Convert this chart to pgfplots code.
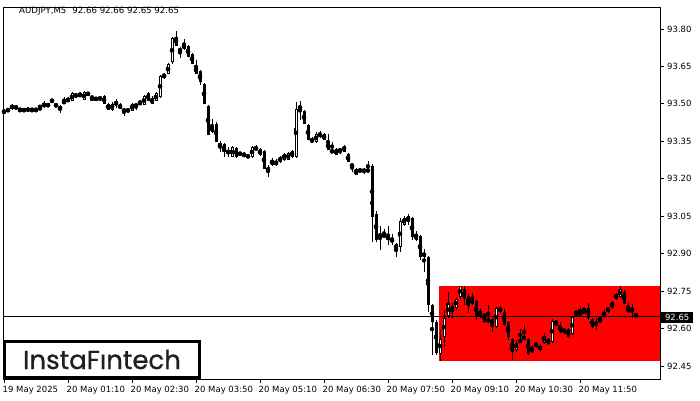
\documentclass[border=0pt]{standalone}
\usepackage{pgfplots}
\pgfplotsset{compat=1.18}
\usepackage{pgfplotstable}
\usepackage{fontspec}
\setmainfont{DejaVu Sans}
\newfontfamily\logofont[FakeBold=0.8]{Poppins}

% AUDJPY M5 bars: index, open, high, low, close
\pgfplotstableread{
i O H L C
0 93.468 93.476 93.464 93.468
1 93.476 93.476 93.476 93.476
2 93.480 93.500 93.476 93.496
3 93.492 93.496 93.476 93.480
4 93.476 93.480 93.476 93.476
5 93.480 93.484 93.468 93.472
6 93.480 93.484 93.472 93.476
7 93.476 93.480 93.476 93.476
8 93.476 93.480 93.476 93.476
9 93.488 93.488 93.476 93.488
10 93.488 93.512 93.484 93.504
11 93.488 93.504 93.488 93.504
12 93.512 93.516 93.512 93.512
13 93.500 93.504 93.488 93.488
14 93.476 93.496 93.464 93.492
15 93.500 93.528 93.500 93.516
16 93.524 93.528 93.508 93.508
17 93.512 93.548 93.512 93.544
18 93.528 93.544 93.528 93.540
19 93.536 93.540 93.536 93.536
20 93.516 93.552 93.516 93.548
21 93.540 93.544 93.536 93.540
22 93.520 93.532 93.520 93.520
23 93.520 93.528 93.512 93.520
24 93.528 93.532 93.516 93.516
25 93.532 93.536 93.500 93.500
26 93.500 93.504 93.476 93.476
27 93.476 93.508 93.472 93.500
28 93.496 93.520 93.484 93.512
29 93.500 93.504 93.480 93.480
30 93.468 93.484 93.452 93.480
31 93.468 93.484 93.464 93.480
32 93.472 93.504 93.472 93.500
33 93.488 93.504 93.476 93.500
34 93.512 93.516 93.496 93.496
35 93.496 93.536 93.496 93.532
36 93.544 93.548 93.512 93.512
37 93.500 93.532 93.500 93.524
38 93.512 93.548 93.512 93.544
39 93.528 93.616 93.524 93.612
40 93.620 93.624 93.600 93.608
41 93.620 93.664 93.620 93.660
42 93.668 93.768 93.660 93.764
43 93.768 93.792 93.732 93.732
44 93.720 93.728 93.684 93.712
45 93.720 93.760 93.716 93.740
46 93.732 93.736 93.688 93.688
47 93.700 93.704 93.660 93.660
48 93.652 93.676 93.620 93.620
49 93.632 93.636 93.576 93.588
50 93.580 93.584 93.500 93.500
51 93.492 93.496 93.376 93.376
52 93.388 93.440 93.384 93.412
53 93.420 93.428 93.348 93.348
54 93.344 93.352 93.308 93.328
55 93.340 93.344 93.288 93.308
56 93.308 93.328 93.288 93.308
57 93.288 93.332 93.288 93.328
58 93.324 93.328 93.284 93.288
59 93.304 93.308 93.296 93.296
60 93.296 93.308 93.288 93.296
61 93.292 93.300 93.284 93.292
62 93.288 93.332 93.284 93.328
63 93.328 93.336 93.312 93.316
64 93.320 93.324 93.292 93.296
65 93.312 93.316 93.240 93.240
66 93.228 93.256 93.208 93.248
67 93.256 93.284 93.252 93.276
68 93.272 93.280 93.252 93.256
69 93.268 93.292 93.264 93.288
70 93.276 93.304 93.272 93.300
71 93.276 93.308 93.276 93.304
72 93.312 93.316 93.284 93.288
73 93.288 93.508 93.284 93.480
74 93.492 93.512 93.436 93.480
75 93.472 93.476 93.420 93.420
76 93.416 93.420 93.356 93.356
77 93.348 93.368 93.344 93.360
78 93.348 93.388 93.344 93.380
79 93.376 93.392 93.364 93.376
80 93.380 93.384 93.356 93.356
81 93.348 93.380 93.316 93.316
82 93.312 93.348 93.312 93.312
83 93.320 93.324 93.296 93.296
84 93.308 93.324 93.300 93.320
85 93.332 93.336 93.308 93.308
86 93.300 93.304 93.268 93.268
87 93.260 93.264 93.228 93.248
88 93.240 93.244 93.216 93.216
89 93.228 93.244 93.224 93.240
90 93.228 93.244 93.220 93.240
91 93.228 93.272 93.228 93.240
92 93.252 93.260 92.948 93.048
93 93.060 93.072 92.948 92.956
94 92.968 93.012 92.916 92.980
95 92.972 93.000 92.964 92.972
96 92.956 93.012 92.936 92.972
97 92.960 92.980 92.936 92.948
98 92.940 92.944 92.888 92.916
99 92.928 93.044 92.908 93.032
100 93.016 93.052 93.012 93.044
101 93.052 93.060 93.016 93.028
102 93.044 93.048 92.956 92.968
103 92.956 92.992 92.952 92.980
104 92.972 92.976 92.876 92.888
105 92.904 92.920 92.828 92.888
106 92.888 92.892 92.668 92.696
107 92.696 92.700 92.496 92.628
108 92.628 92.636 92.496 92.504
109 92.500 92.596 92.472 92.560
110 92.568 92.676 92.528 92.644
111 92.652 92.748 92.644 92.700
112 92.692 92.704 92.644 92.668
113 92.684 92.728 92.676 92.720
114 92.728 92.772 92.720 92.772
115 92.760 92.772 92.696 92.720
116 92.732 92.740 92.664 92.692
117 92.700 92.744 92.696 92.720
118 92.712 92.716 92.636 92.648
119 92.664 92.684 92.644 92.648
120 92.660 92.664 92.624 92.628
121 92.640 92.696 92.624 92.628
122 92.640 92.644 92.588 92.616
123 92.608 92.692 92.604 92.684
124 92.668 92.692 92.664 92.684
125 92.668 92.680 92.612 92.616
126 92.628 92.632 92.556 92.568
127 92.560 92.564 92.476 92.508
128 92.516 92.556 92.508 92.544
129 92.552 92.600 92.548 92.552
130 92.560 92.616 92.556 92.568
131 92.560 92.564 92.496 92.500
132 92.508 92.536 92.504 92.528
133 92.544 92.548 92.524 92.528
134 92.516 92.540 92.508 92.532
135 92.544 92.584 92.540 92.572
136 92.560 92.564 92.536 92.540
137 92.548 92.640 92.544 92.632
138 92.620 92.636 92.616 92.620
139 92.612 92.628 92.584 92.588
140 92.600 92.604 92.580 92.584
141 92.600 92.604 92.564 92.568
142 92.580 92.652 92.576 92.648
143 92.660 92.676 92.652 92.660
144 92.668 92.692 92.652 92.656
145 92.668 92.688 92.664 92.668
146 92.684 92.704 92.636 92.644
147 92.640 92.644 92.604 92.608
148 92.620 92.644 92.596 92.620
149 92.628 92.652 92.624 92.640
150 92.648 92.680 92.644 92.668
151 92.684 92.688 92.664 92.668
152 92.684 92.712 92.680 92.708
153 92.720 92.744 92.716 92.740
154 92.728 92.772 92.724 92.760
155 92.748 92.756 92.700 92.700
156 92.688 92.708 92.664 92.668
157 92.684 92.700 92.644 92.668
158 92.660 92.660 92.650 92.650
}\candles

\begin{document}
\begin{tikzpicture}
\path[use as bounding box] (0,0) rectangle (700pt,400pt);
\begin{axis}[
  at={(3pt,21pt)}, anchor=south west,
  scale only axis, width=657pt, height=372pt,
  xmin=-0.25, xmax=164, ymin=92.398, ymax=93.888,
  clip mode=individual,
  axis line style={line width=0.8pt},
  tick align=outside, major tick length=4pt,
  tick style={black, line width=0.8pt},
  xtick pos=bottom, ytick pos=right, yticklabel pos=right,
  xtick={0,16,32,48,64,80,96,112,128,144},
  xticklabels={19 May 2025,20 May 01:10,20 May 02:30,20 May 03:50,20 May 05:10,20 May 06:30,20 May 07:50,20 May 09:10,20 May 10:30,20 May 11:50},
  ytick={92.45,92.60,92.75,92.90,93.05,93.20,93.35,93.50,93.65,93.80},
  yticklabel style={/pgf/number format/fixed, /pgf/number format/fixed zerofill,
    /pgf/number format/precision=2, anchor=west, inner sep=0pt, xshift=3pt},
  xticklabel style={anchor=north west, inner sep=0pt, xshift=-1.5pt, yshift=-3pt},
  /pgf/number format/assume math mode=true,
  tick label style={font=\fontsize{8.5pt}{10pt}\selectfont},
]
% pattern zone
\addplot[draw=none, fill=red] coordinates {(108.75,92.47) (164,92.47) (164,92.771) (108.75,92.771)} -- cycle;
% wicks
\addplot[only marks, mark=none, error bars/.cd, y dir=both, y explicit, error mark=none,
  error bar style={line width=1pt, black}]
  table[x=i, y expr={(\thisrow{H}+\thisrow{L})/2},
    y error plus expr={(\thisrow{H}-\thisrow{L})/2},
    y error minus expr={(\thisrow{H}-\thisrow{L})/2}] {\candles};
% bodies
\addplot[only marks, mark=none, error bars/.cd, y dir=both, y explicit, error mark=none,
  error bar style={line width=3pt, black}]
  table[x=i, y expr={(\thisrow{O}+\thisrow{C})/2},
    y error plus expr={max(abs(\thisrow{C}-\thisrow{O})/2,0.002)},
    y error minus expr={max(abs(\thisrow{C}-\thisrow{O})/2,0.002)}] {\candles};
% hollow part of rising bars
\addplot[only marks, mark=none, error bars/.cd, y dir=both, y explicit, error mark=none,
  error bar style={line width=1pt, white}]
  table[x=i, y expr={(\thisrow{O}+\thisrow{C})/2},
    y error plus expr={max((\thisrow{C}-\thisrow{O})/2-0.004,0)},
    y error minus expr={max((\thisrow{C}-\thisrow{O})/2-0.004,0)}] {\candles};
% bid line
\addplot[black, line width=1pt] coordinates {(-0.25,92.65) (164,92.65)};
\end{axis}
\node[anchor=west, inner sep=0pt, font=\fontsize{8.6pt}{10pt}\selectfont] at (19pt,389pt)
  {AUDJPY,M5\hspace{6pt}92.66 92.66 92.65 92.65};
\node[anchor=west, fill=black, text=white, inner sep=0pt, minimum width=32pt, minimum height=11pt,
  font=\fontsize{8.5pt}{10pt}\selectfont] at (661pt,83pt) {92.65};
\draw[line width=3pt, fill=white] (4.5pt,22.5pt) rectangle (199.5pt,58.5pt);
\node[anchor=base, inner sep=0pt, text=black!88] at (102pt,31pt)
  {\logofont\fontsize{26pt}{26pt}\selectfont InstaFıntech};
\end{tikzpicture}
\end{document}
